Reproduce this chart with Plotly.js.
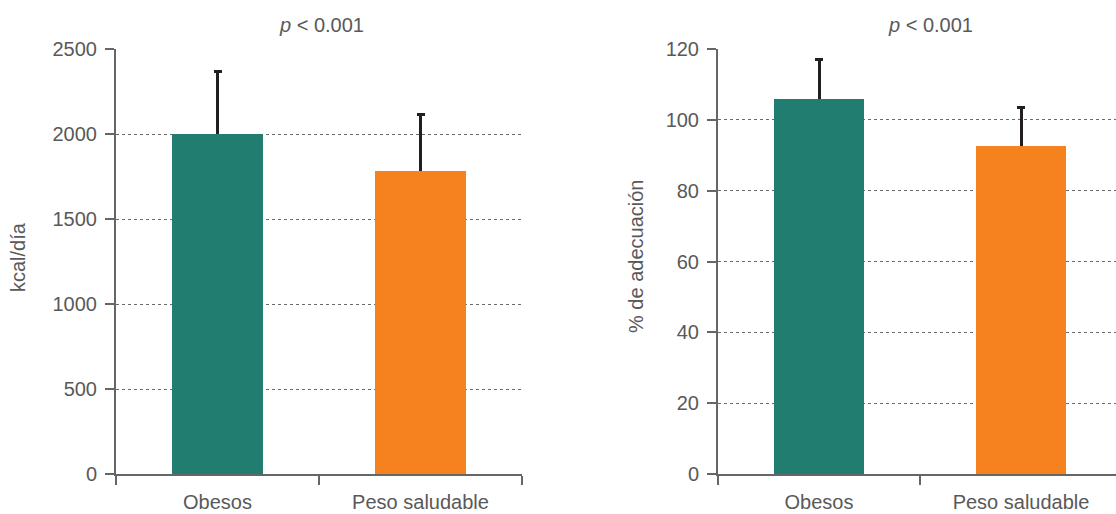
<!DOCTYPE html>
<html>
<head>
<meta charset="utf-8">
<script src="https://cdn.plot.ly/plotly-3.0.1.min.js"></script>
<style>html,body{margin:0;padding:0;background:#fff;}#chart{width:1116px;height:514px;}</style>
</head>
<body>
<div id="chart"></div>
<script>
const categories = ['Obesos', 'Peso saludable'];
const kcalMeans = [2000, 1782];
const kcalSD = [365, 330];
const adecMeans = [106, 92.5];
const adecSD = [11, 11];
const barColors = ['#217d6f', '#f5821f'];
const kcalTicks = [0, 500, 1000, 1500, 2000, 2500];
const adecTicks = [0, 20, 40, 60, 80, 100, 120];
const pTitle = '<i>p</i> &lt; 0.001';

const FONT = 'Liberation Sans, Arial, sans-serif';
const TXT = '#595959';
const AX = '#666666';

// bars carrying upward-only error bars; the lower cap is tucked inside the bar
// and hidden by an identical bar drawn on top
function errBar(y, sd, hide, xa, ya) {
  return {
    type: 'bar', x: categories, y: y, xaxis: xa, yaxis: ya,
    width: 0.445,
    marker: {color: barColors, line: {width: 0}},
    error_y: {type: 'data', symmetric: false, array: sd, arrayminus: [hide, hide],
              color: '#231f20', thickness: 3, width: 4},
    hoverinfo: 'skip', showlegend: false
  };
}
function plainBar(y, xa, ya) {
  return {
    type: 'bar', x: categories, y: y, xaxis: xa, yaxis: ya,
    width: 0.445,
    marker: {color: barColors, line: {width: 0}},
    hoverinfo: 'skip', showlegend: false
  };
}

function xaxis(domain, range) {
  return {
    domain: domain, range: range, type: 'category',
    showline: true, linecolor: AX, linewidth: 2,
    ticks: 'outside', tickson: 'boundaries', ticklen: 9, tickwidth: 2, tickcolor: AX,
    showgrid: false, zeroline: false,
    tickfont: {family: FONT, size: 20, color: TXT},
    ticklabelstandoff: 9, fixedrange: true
  };
}
function yaxis(anchor, range, ticks) {
  return {
    anchor: anchor, domain: [40/514, 465/514], range: range,
    tickvals: ticks, ticktext: ticks.map(String),
    showline: true, linecolor: AX, linewidth: 2,
    ticks: 'outside', ticklen: 9, tickwidth: 2, tickcolor: AX,
    showgrid: true, gridcolor: '#6a6a6a', gridwidth: 1, griddash: 'dot',
    zeroline: false,
    tickfont: {family: FONT, size: 20, color: TXT},
    ticklabelstandoff: 4, fixedrange: true
  };
}

const data = [
  errBar(kcalMeans, kcalSD, 40, 'x', 'y'),
  plainBar(kcalMeans, 'x', 'y'),
  errBar(adecMeans, adecSD, 2, 'x2', 'y2'),
  plainBar(adecMeans, 'x2', 'y2')
];

const layout = {
  width: 1116, height: 514,
  margin: {l: 0, r: 0, t: 0, b: 0},
  paper_bgcolor: '#ffffff', plot_bgcolor: '#ffffff',
  font: {family: FONT, size: 20, color: TXT},
  barmode: 'overlay', bargap: 0,
  xaxis: Object.assign(xaxis([116/1116, 522/1116], [-0.5, 1.5]), {anchor: 'y'}),
  yaxis: yaxis('x', [0, 2500], kcalTicks),
  xaxis2: Object.assign(xaxis([718/1116, 1], [-0.5, 1.47]), {anchor: 'y2'}),
  yaxis2: yaxis('x2', [0, 120], adecTicks),
  annotations: [
    {text: pTitle, xref: 'paper', yref: 'paper', x: 321/1116, y: 1 - 25/514,
     xanchor: 'center', yanchor: 'middle', showarrow: false, font: {family: FONT, size: 20, color: TXT}},
    {text: pTitle, xref: 'paper', yref: 'paper', x: 930/1116, y: 1 - 25/514,
     xanchor: 'center', yanchor: 'middle', showarrow: false, font: {family: FONT, size: 20, color: TXT}},
    {text: 'kcal/día', xref: 'paper', yref: 'paper', x: 18/1116, y: 1 - 257/514,
     xanchor: 'center', yanchor: 'middle', textangle: -90, showarrow: false, font: {family: FONT, size: 20, color: TXT}},
    {text: '% de adecuación', xref: 'paper', yref: 'paper', x: 636/1116, y: 1 - 257/514,
     xanchor: 'center', yanchor: 'middle', textangle: -90, showarrow: false, font: {family: FONT, size: 20, color: TXT}}
  ]
};

Plotly.newPlot('chart', data, layout, {displayModeBar: false, staticPlot: true});
</script>
</body>
</html>
